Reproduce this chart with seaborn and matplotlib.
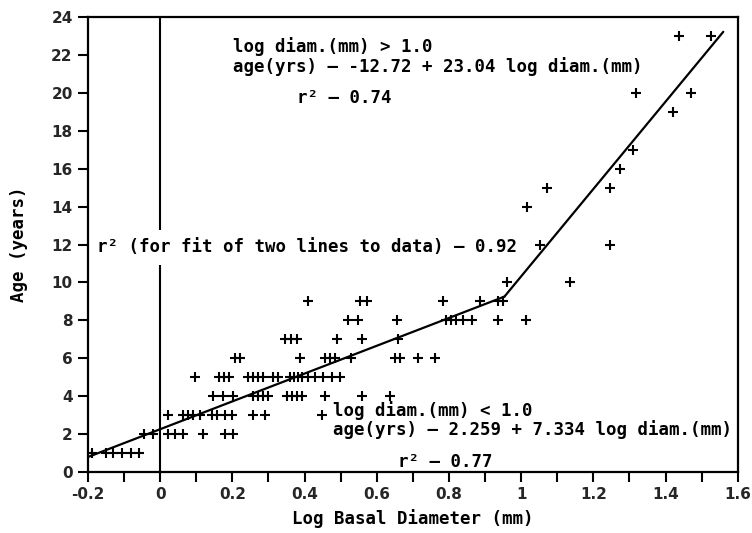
import numpy as np
import pandas as pd
import matplotlib
matplotlib.use("Agg")
import matplotlib.pyplot as plt
import seaborn as sns

# ---- data (log basal diameter, age in years) ----
diam_age1 = [-0.19, -0.15, -0.13, -0.105, -0.08, -0.06]
diam_age2 = [-0.044, -0.019, 0.022, 0.042, 0.064, 0.119, 0.180, 0.202]
diam_age3 = [0.022, 0.064, 0.078, 0.092, 0.111, 0.144, 0.158, 0.180, 0.199,
             0.258, 0.291, 0.449]
diam_age4 = [0.147, 0.175, 0.202, 0.258, 0.272, 0.285, 0.299, 0.352, 0.366,
             0.380, 0.393, 0.457, 0.560, 0.637]
diam_age5 = [0.097, 0.163, 0.177, 0.191, 0.244, 0.258, 0.271, 0.285, 0.313,
             0.327, 0.360, 0.371, 0.382, 0.393, 0.410, 0.429, 0.452, 0.476, 0.499]
diam_age6 = [0.208, 0.222, 0.388, 0.457, 0.471, 0.485, 0.529, 0.651, 0.665,
             0.715, 0.762]
diam_age7 = [0.346, 0.363, 0.380, 0.490, 0.560, 0.659]
diam_age8 = [0.521, 0.548, 0.657, 0.792, 0.806, 0.820, 0.839, 0.864, 0.936, 1.014]
diam_age9 = [0.410, 0.554, 0.573, 0.784, 0.886, 0.936, 0.950]
diam_age10 = [0.961, 1.136]
diam_age12 = [1.053, 1.247]
diam_age14 = [1.017]
diam_age15 = [1.072, 1.247]
diam_age16 = [1.274]
diam_age17 = [1.310]
diam_age19 = [1.421]
diam_age20 = [1.319, 1.471]
diam_age23 = [1.438, 1.526]

rows = {1: diam_age1, 2: diam_age2, 3: diam_age3, 4: diam_age4, 5: diam_age5,
        6: diam_age6, 7: diam_age7, 8: diam_age8, 9: diam_age9, 10: diam_age10,
        12: diam_age12, 14: diam_age14, 15: diam_age15, 16: diam_age16,
        17: diam_age17, 19: diam_age19, 20: diam_age20, 23: diam_age23}

# fitted lines (from the annotations)
low_intercept, low_slope = 2.259, 7.334
high_intercept, high_slope = -12.72, 23.04
line_x_start, line_x_end = -0.2, 1.56

x_ticks = [-0.2, 0, 0.2, 0.4, 0.6, 0.8, 1, 1.2, 1.4, 1.6]
x_tick_labels = ["-0.2", "0", "0.2", "0.4", "0.6", "0.8", "1", "1.2", "1.4", "1.6"]
y_ticks = list(range(0, 25, 2))

df = pd.DataFrame([(x, age) for age, xs in rows.items() for x in xs],
                  columns=["diam", "age"])

sns.set_style("ticks")
plt.rcParams["font.family"] = ["DejaVu Sans"]

fig = plt.figure(figsize=(7.52, 5.33), dpi=100)
ax = fig.add_axes([0.117, 0.1144, 0.864, 0.8536])

sns.scatterplot(data=df, x="diam", y="age", marker="+", s=60, color="black",
                linewidth=1.5, ax=ax, zorder=3)

# two-segment fit
xb = (low_intercept - high_intercept) / (high_slope - low_slope)
x1 = np.array([line_x_start, xb])
x2 = np.array([xb, line_x_end])
ax.plot(x1, low_intercept + low_slope * x1, color="black", lw=1.6, zorder=2)
ax.plot(x2, high_intercept + high_slope * x2, color="black", lw=1.6, zorder=2)

# vertical reference line at log diam = 0 (broken by the r^2 text)
ax.vlines(0, 0, 10.9, color="black", lw=1.5)
ax.vlines(0, 12.75, 24, color="black", lw=1.5)

ax.set_xlim(-0.2, 1.6)
ax.set_ylim(0, 24)
ax.set_xticks(x_ticks)
ax.set_xticklabels(x_tick_labels)
ax.set_xticks(np.arange(-0.1, 1.6, 0.2), minor=True)
ax.set_yticks(y_ticks)

tick_family = ["Liberation Sans Narrow", "DejaVu Sans Condensed", "DejaVu Sans"]
for lab in ax.get_xticklabels() + ax.get_yticklabels():
    lab.set_fontfamily(tick_family)
    lab.set_fontweight("bold")
    lab.set_fontsize(11)

ax.tick_params(axis="both", which="major", direction="out", length=7, width=1.5,
               color="black", pad=4)
ax.tick_params(axis="x", which="minor", direction="out", length=7, width=1.5,
               color="black")
for sp in ax.spines.values():
    sp.set_visible(True)
    sp.set_linewidth(1.6)
    sp.set_color("black")

mono = dict(family=["DejaVu Sans Mono"], weight="bold", size=12.5, color="black")
ax.set_xlabel("Log Basal Diameter (mm)", labelpad=5, **mono)
ax.set_ylabel("Age (years)", labelpad=17, **mono)

ax.text(0.202, 22.47, "log diam.(mm) > 1.0", ha="left", va="center", **mono)
ax.text(0.202, 21.41, "age(yrs) – -12.72 + 23.04 log diam.(mm)", ha="left", va="center", **mono)
ax.text(0.380, 19.73, "r² – 0.74", ha="left", va="center", **mono)

ax.text(-0.175, 11.85, "r² (for fit of two lines to data) – 0.92",
        ha="left", va="center", **mono)

ax.text(0.479, 3.27, "log diam.(mm) < 1.0", ha="left", va="center", **mono)
ax.text(0.479, 2.22, "age(yrs) – 2.259 + 7.334 log diam.(mm)", ha="left", va="center", **mono)
ax.text(0.659, 0.55, "r² – 0.77", ha="left", va="center", **mono)

fig.savefig("out.png", dpi=100, facecolor="white")
